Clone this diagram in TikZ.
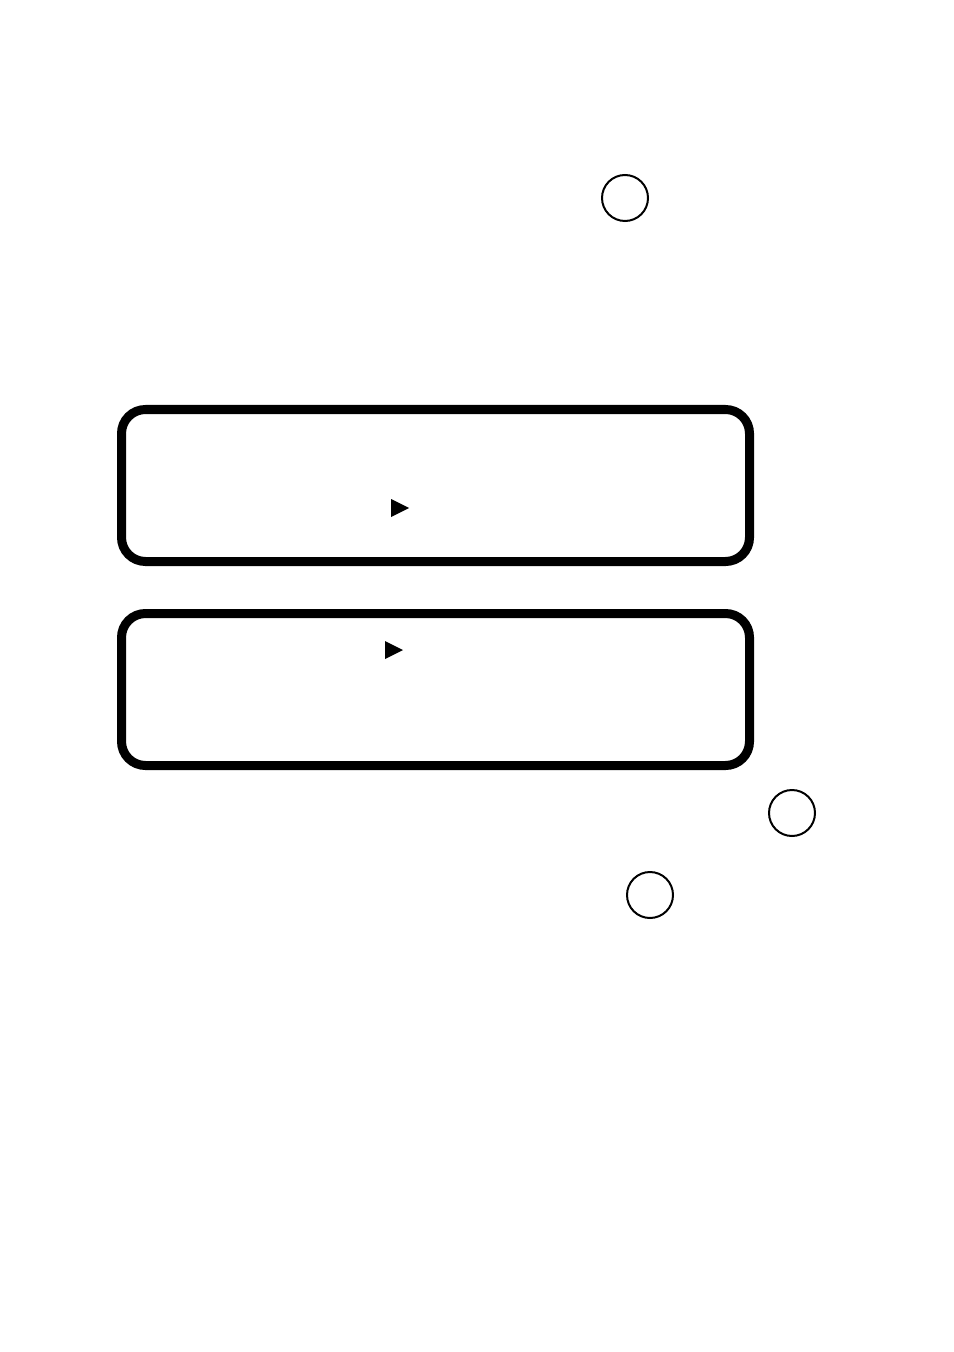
\documentclass[tikz,border=0pt]{standalone}
\begin{document}
\begin{tikzpicture}[x=0.5pt,y=-0.5pt,
  ring/.style={draw=black,line width=1pt,circle,minimum size=23pt,inner sep=0pt},
  panel/.style={draw=black,line width=4.5pt,rounded corners=12pt,minimum width=314pt,minimum height=76pt,inner sep=0pt},
  pointer/.style={fill=black}]
\useasboundingbox (0,0) rectangle (953,1352);
\fill[white] (0,0) rectangle (953,1352);
\node[ring] (c1) at (625,198) {};
\node[ring] (c2) at (792,813) {};
\node[ring] (c3) at (650,895) {};
\node[panel] (p1) at (435.5,485.5) {};
\node[panel] (p2) at (435.5,689.5) {};
\fill[pointer] (391,499) -- (391,517) -- (409,508) -- cycle;
\fill[pointer] (385,641) -- (385,659) -- (403,650) -- cycle;
\end{tikzpicture}
\end{document}
